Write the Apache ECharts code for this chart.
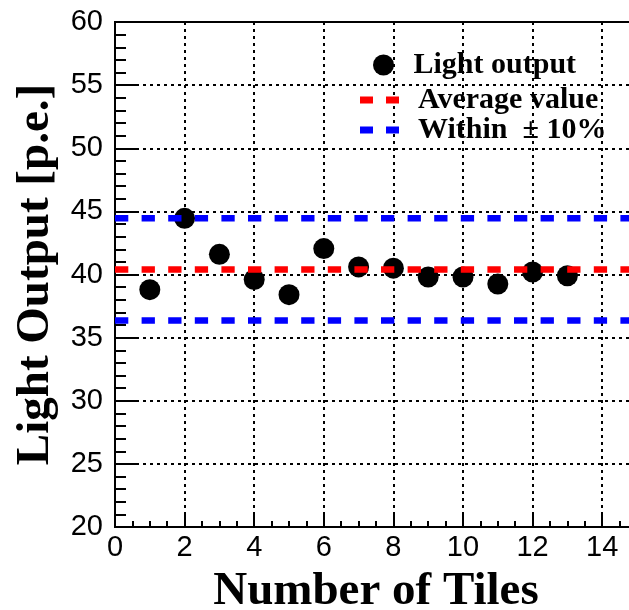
<!DOCTYPE html>
<html>
<head>
<meta charset="utf-8">
<script src="https://cdn.jsdelivr.net/npm/echarts@6/dist/echarts.min.js"></script>
<style>
html,body{margin:0;padding:0;background:#fff;}
#chart{width:629px;height:610px;}
</style>
</head>
<body>
<div id="chart"></div>
<script>
// ---- data ----
const tileNumbers = [1, 2, 3, 4, 5, 6, 7, 8, 9, 10, 11, 12, 13];
const lightOutput = [38.8, 44.45, 41.6, 39.6, 38.4, 42.05, 40.6, 40.5, 39.8, 39.8, 39.25, 40.2, 39.9];
const averageValue = 40.4;
const upperBand = 44.45;
const lowerBand = 36.35;
const xRange = [0, 15];
const yRange = [20, 60];
const seriesNames = ['Light output', 'Average value', 'Within ± 10%'];

const serif = "'Liberation Serif', 'Times New Roman', serif";
const sans = "'Liberation Sans', Arial, sans-serif";
const dashIcon = 'path://M0,0h13v7h-13zM26,0h13v7h-13z';

const scatterData = tileNumbers.map((x, i) => [x, lightOutput[i]]);
const hLine = v => [[xRange[0], v], [xRange[1], v]];

const chart = echarts.init(document.getElementById('chart'), null, {renderer: 'canvas'});

const legendText = {fontFamily: serif, fontWeight: 'bold', fontSize: 30, color: '#000'};

chart.setOption({
  animation: false,
  backgroundColor: '#fff',
  grid: {left: 115, top: 22, right: -8, bottom: 83, containLabel: false, outerBoundsMode: 'none',
         show: true, borderColor: '#000', borderWidth: 2, backgroundColor: 'transparent'},
  legend: [
    {data: [{name: seriesNames[0], icon: 'circle'}], left: 373, top: 50, padding: 0,
     itemWidth: 30, itemHeight: 21, textStyle: Object.assign({padding: [0, 0, 0, 10]}, legendText)},
    {data: [{name: seriesNames[1], icon: dashIcon}], left: 360, top: 85, padding: 0,
     itemWidth: 39, itemHeight: 7, textStyle: Object.assign({padding: [0, 0, 0, 14]}, legendText)},
    {data: [{name: seriesNames[2], icon: dashIcon}], left: 360, top: 115, padding: 0,
     itemWidth: 39, itemHeight: 7, formatter: n => n.replace(' ±', '  ±'),
     textStyle: Object.assign({padding: [0, 0, 0, 14]}, legendText)}
  ],
  xAxis: {
    type: 'value', min: xRange[0], max: xRange[1], interval: 2,
    name: 'Number of Tiles', nameLocation: 'middle', nameGap: 41,
    nameTextStyle: {fontFamily: serif, fontWeight: 'bold', fontSize: 47, color: '#000'},
    axisLine: {show: true, onZero: false, lineStyle: {color: '#000', width: 2}},
    axisTick: {show: true, inside: true, length: 12, lineStyle: {color: '#000', width: 2}},
    minorTick: {show: true, splitNumber: 4, length: 6, lineStyle: {color: '#000', width: 2}},
    axisLabel: {fontFamily: sans, fontSize: 29, color: '#000', margin: 6, showMaxLabel: false},
    splitLine: {show: true, lineStyle: {color: '#000', width: 2, type: [3, 4]}},
    minorSplitLine: {show: false}
  },
  yAxis: {
    type: 'value', min: yRange[0], max: yRange[1], interval: 5,
    name: 'Light Output [p.e.]', nameLocation: 'middle', nameGap: 47,
    nameTextStyle: {fontFamily: serif, fontWeight: 'bold', fontSize: 47, color: '#000'},
    axisLine: {show: true, onZero: false, lineStyle: {color: '#000', width: 2}},
    axisTick: {show: true, inside: true, length: 22, lineStyle: {color: '#000', width: 2}},
    minorTick: {show: true, splitNumber: 5, length: 11, lineStyle: {color: '#000', width: 2}},
    axisLabel: {fontFamily: sans, fontSize: 29, color: '#000', margin: 12},
    splitLine: {show: true, lineStyle: {color: '#000', width: 2, type: [3, 4]}}
  },
  series: [
    {name: seriesNames[0], type: 'scatter', data: scatterData, symbol: 'circle', symbolSize: 21,
     itemStyle: {color: '#000', opacity: 1}, z: 2},
    {name: seriesNames[1], type: 'line', data: hLine(averageValue), symbol: 'none',
     itemStyle: {color: '#ff0000'},
     lineStyle: {color: '#ff0000', width: 6.5, type: [13.3, 13.3]}, z: 3},
    {name: seriesNames[2], type: 'line', data: hLine(upperBand), symbol: 'none',
     itemStyle: {color: '#0000ff'},
     lineStyle: {color: '#0000ff', width: 6.5, type: [13.3, 13.3]}, z: 3},
    {name: seriesNames[2], type: 'line', data: hLine(lowerBand), symbol: 'none',
     itemStyle: {color: '#0000ff'},
     lineStyle: {color: '#0000ff', width: 6.5, type: [13.3, 13.3]}, z: 3}
  ]
});
</script>
</body>
</html>
